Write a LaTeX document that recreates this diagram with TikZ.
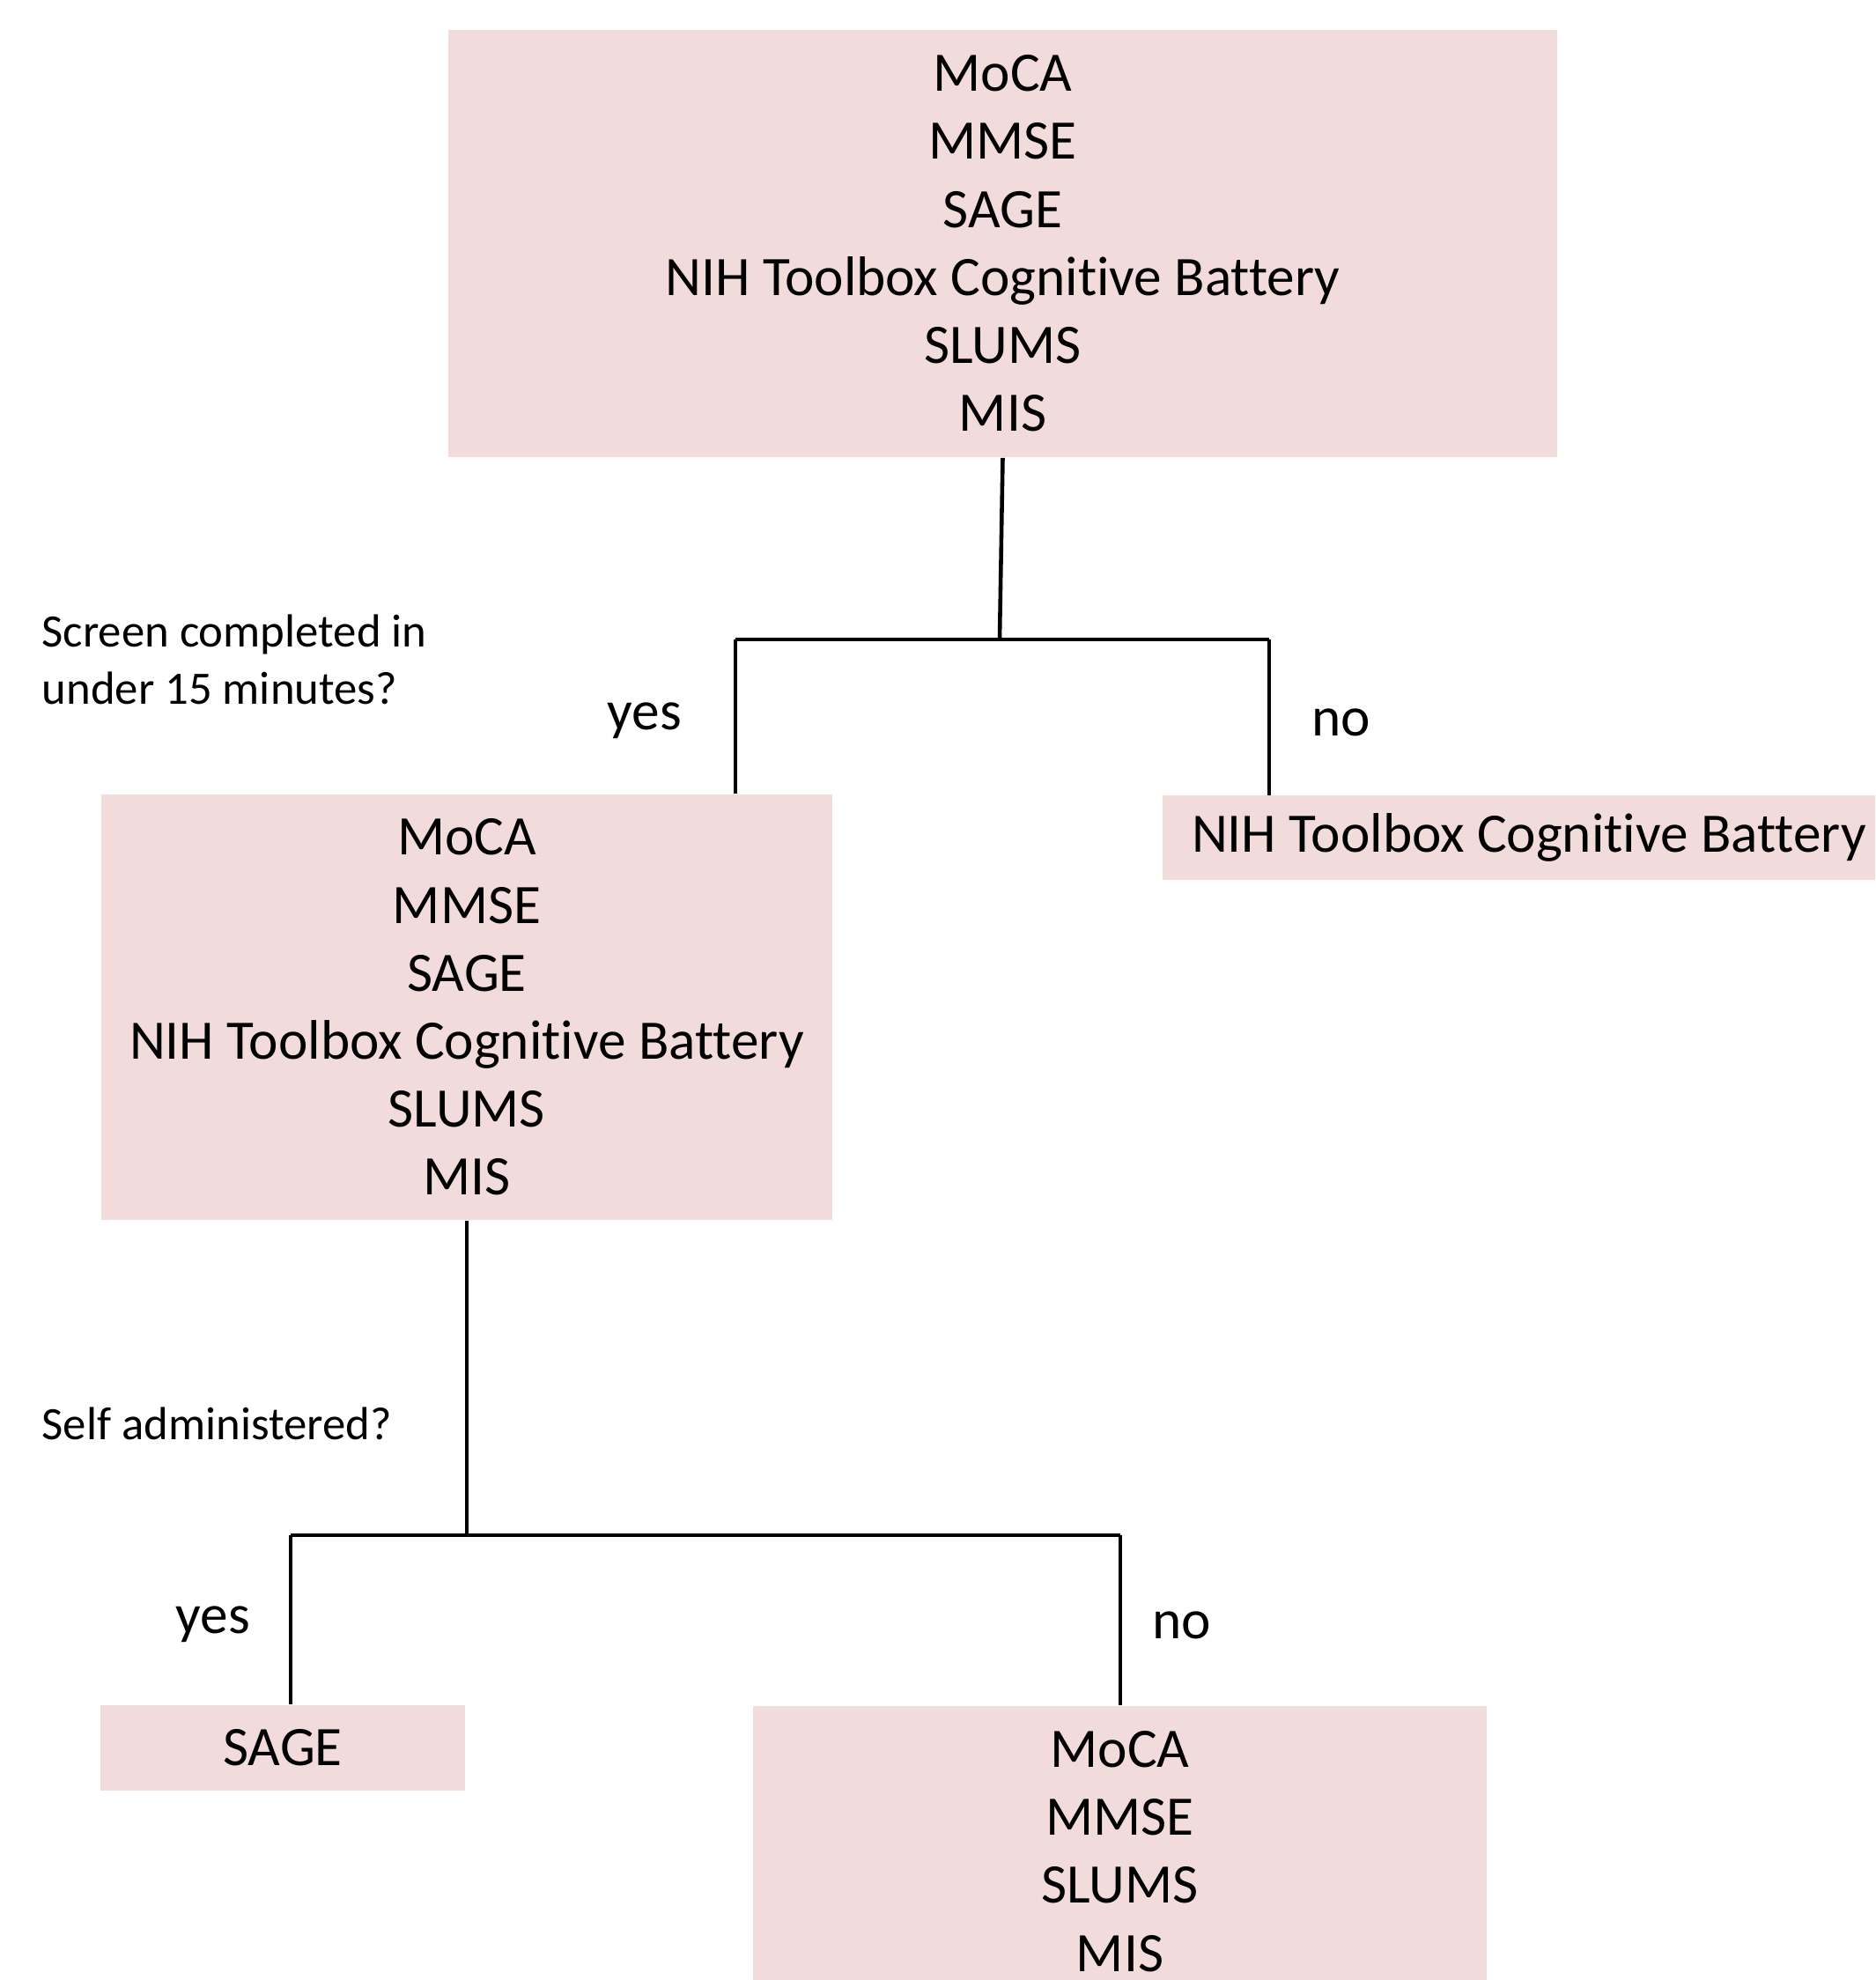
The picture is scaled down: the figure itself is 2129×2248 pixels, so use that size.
\documentclass[tikz,border=0pt]{standalone}
\usepackage{fontspec}
\setmainfont{Carlito}[Ligatures=NoCommon,Contextuals=NoAlternate]
\usepackage{tikz}
\definecolor{ink}{HTML}{000000}
\definecolor{boxpink}{HTML}{F2DCDB}

\begin{document}
\begin{tikzpicture}[
  x=0.01cm,y=-0.01cm,
  box/.style={fill=boxpink,inner sep=0pt,align=center,font=\fontsize{18}{21.96}\selectfont},
  question/.style={anchor=west,align=left,inner sep=0pt,font=\fontsize{15}{18.3}\selectfont},
  answer/.style={inner sep=0pt,font=\fontsize{18}{21.96}\selectfont},
  tree/.style={line width=1.3pt,draw=ink}
]
\useasboundingbox (0,0) rectangle (2129,2248);
\clip (0,0) rectangle (2129,2248);

\node[box,minimum width=12.59cm,minimum height=4.85cm] (alltests) at (1138.5,276.5) {MoCA\\MMSE\\SAGE\\NIH Toolbox Cognitive Battery\\SLUMS\\MIS};
\node[box,minimum width=8.30cm,minimum height=4.83cm] (quick) at (530,1143.5) {MoCA\\MMSE\\SAGE\\NIH Toolbox Cognitive Battery\\SLUMS\\MIS};
\node[box,minimum width=8.32cm,minimum height=0.95cm] (longtest) at (1736,951) {NIH Toolbox Cognitive Battery};
\node[box,minimum width=4.14cm,minimum height=0.97cm] (selftest) at (321,1984.5) {SAGE};
\node[box,minimum width=8.33cm,minimum height=3.30cm] (clinician) at (1271.5,2102) {MoCA\\MMSE\\SLUMS\\MIS};

\node[question] (timeq) at (47,749) {Screen completed in\\under 15 minutes?};
\node[question] (selfq) at (47,1616) {Self administered?};

\coordinate (split1) at (1135,726);
\coordinate (yes1) at (835,726);
\coordinate (no1) at (1441,726);
\coordinate (split2) at (530,1743);
\coordinate (yes2) at (330,1743);
\coordinate (no2) at (1272,1743);

\draw[tree] (alltests.south) -- (split1);
\draw[tree] (yes1) -- (no1);
\draw[tree] (yes1) -- (yes1 |- quick.north);
\draw[tree] (no1) -- (no1 |- longtest.north);
\draw[tree] (quick.south) -- (split2);
\draw[tree] (yes2) -- (no2);
\draw[tree] (yes2) -- (yes2 |- selftest.north);
\draw[tree] (no2) -- (no2 |- clinician.north);

\node[answer] (yeslabel1) at (732,818) {yes};
\node[answer] (nolabel1) at (1523,820) {no};
\node[answer] (yeslabel2) at (242,1844) {yes};
\node[answer] (nolabel2) at (1342,1845) {no};
\end{tikzpicture}
\end{document}
